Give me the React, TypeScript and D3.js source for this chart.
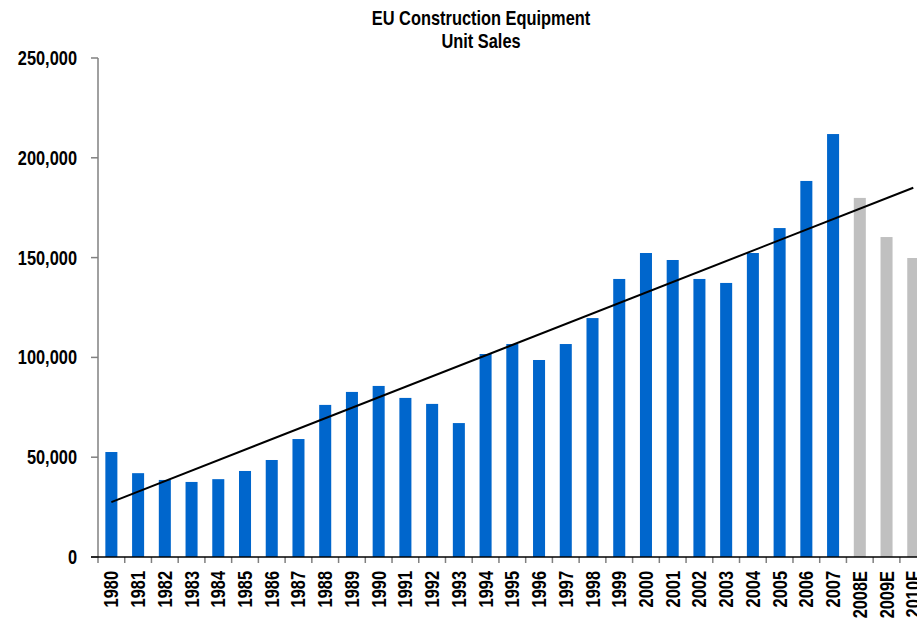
import React from "react";
import * as d3 from "d3";

const categories = ["1980","1981","1982","1983","1984","1985","1986","1987","1988","1989","1990","1991","1992","1993","1994","1995","1996","1997","1998","1999","2000","2001","2002","2003","2004","2005","2006","2007","2008E","2009E","2010F"];
const unitSales = [52600,42000,38600,37600,39000,43100,48600,59100,76200,82700,85700,79700,76700,67100,101700,106700,98700,106700,119700,139300,152300,148800,139300,137300,152300,164800,188400,211900,179900,160300,149800];
const estimated = [false,false,false,false,false,false,false,false,false,false,false,false,false,false,false,false,false,false,false,false,false,false,false,false,false,false,false,false,true,true,true];
const trendEnds = [27500, 185000];
const yTicks = [0, 50000, 100000, 150000, 200000, 250000];
const titleLines = ["EU Construction Equipment", "Unit Sales"];

const W = 917, H = 619;
const FONT = "'Liberation Sans Narrow', 'Arial Narrow', 'Liberation Sans', Arial, sans-serif";
const NARROW = 0.82;

function NText({ transform, children, anchor, dy }: { transform: string; children: React.ReactNode; anchor: string; dy?: string }) {
  return (
    <g transform={`${transform} scale(${NARROW},1)`}>
      <text x={0} y={0} dy={dy} textAnchor={anchor} fontSize={20} fill="#000">{children}</text>
    </g>
  );
}

export default function App() {
  const x0 = 98, step = 26.73;
  const x = d3.scaleBand<string>().domain(categories).range([x0, x0 + step * categories.length]).paddingInner(0.55).paddingOuter(0.275);
  const y = d3.scaleLinear().domain([0, 250000]).range([557, 58]);
  const fmt = d3.format(",");
  const cx = (c: string) => (x(c) as number) + x.bandwidth() / 2;
  const line = d3.line<[number, number]>().x(d => d[0]).y(d => d[1]);
  const trendPts: [number, number][] = [
    [cx(categories[0]), y(trendEnds[0])],
    [cx(categories[categories.length - 1]), y(trendEnds[1])],
  ];
  const boundaries = d3.range(categories.length + 1).map(i => x0 + i * x.step());

  return (
    <svg width={W} height={H} style={{ position: "absolute", left: 0, top: 0 }} fontFamily={FONT} fontWeight="bold">
      <rect width={W} height={H} fill="#fff" />
      {titleLines.map((t, i) => (
        <NText key={t} transform={`translate(481,${25 + i * 23})`} anchor="middle">{t}</NText>
      ))}
      {categories.map((c, i) => (
        <rect key={c} x={x(c)} y={y(unitSales[i])} width={x.bandwidth()} height={y(0) - y(unitSales[i])} fill={estimated[i] ? "#C0C0C0" : "#0066CC"} />
      ))}
      <path d={line(trendPts) || ""} stroke="#000" strokeWidth={2} fill="none" />
      <line x1={x0} x2={x0} y1={y(250000)} y2={y(0)} stroke="#808080" strokeWidth={1.5} />
      {yTicks.map(t => (
        <g key={t}>
          <line x1={x0 - 7} x2={x0} y1={y(t)} y2={y(t)} stroke="#808080" strokeWidth={1.5} />
          <NText transform={`translate(77,${y(t)})`} dy="0.35em" anchor="end">{fmt(t)}</NText>
        </g>
      ))}
      {boundaries.map((b, i) => (
        <line key={i} x1={b} x2={b} y1={y(0)} y2={y(0) + 6} stroke="#808080" strokeWidth={1.5} />
      ))}
      <line x1={x0 - 7} x2={x0 + step * categories.length} y1={y(0)} y2={y(0)} stroke="#000" strokeWidth={1.5} />
      {categories.map(c => (
        <NText key={c} transform={`translate(${cx(c)},571) rotate(-90)`} dy="0.35em" anchor="end">{c}</NText>
      ))}
    </svg>
  );
}
